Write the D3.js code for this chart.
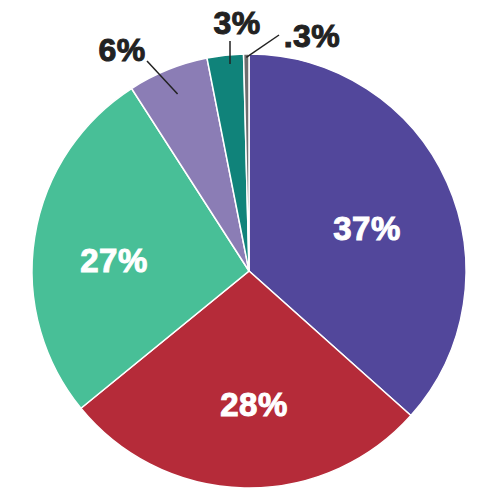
<!DOCTYPE html>
<html>
<head>
<meta charset="utf-8">
<script src="https://cdn.jsdelivr.net/npm/d3@7"></script>
<style>
  body { margin: 0; background: #fff; }
  text { font-family: "Liberation Sans", Arial, sans-serif; font-weight: bold; }
</style>
</head>
<body>
<script>
// slice values (clockwise from 12 o'clock)
var values = [36.6, 27.5, 26.8, 6.0, 2.7, 0.4];
var labels = ["37%", "28%", "27%", "6%", "3%", ".3%"];
var colors = ["#52479b", "#b52b39", "#48bf97", "#8b7db5", "#10837a", "#6e6e6e"];
// which labels sit inside the slice
var inside = [true, true, true, false, false, false];

var width = 492, height = 494;
var cx = 249, cy = 271, r = 217;

var svg = d3.select("body")
  .append("svg")
  .attr("width", width)
  .attr("height", height);

var g = svg.append("g")
  .attr("transform", "translate(" + cx + "," + cy + ")");

var pie = d3.pie().sort(null).value(function(d) { return d; });
var arcs = pie(values);

var arc = d3.arc().innerRadius(0).outerRadius(r);

g.selectAll("path")
  .data(arcs)
  .enter()
  .append("path")
  .attr("d", arc)
  .attr("fill", function(d, i) { return colors[i]; })
  .attr("stroke", "#fff")
  .attr("stroke-width", 1.5);

// label spots relative to the centre (text baseline, middle anchor)
var labelPos = [[118, -31], [5, 145], [-135, 1], [-127, -210], [-12, -237], [63, -224]];
// leader lines: where the line leaves the label, and how deep into the slice it goes
var lineStart = { 3: [-102, -210], 4: [-19, -230], 5: [30, -236] };
var lineDepth = { 3: 0.88, 4: 0.96, 5: 0.985 };

var outs = arcs.filter(function(d, i) { return !inside[i]; });

g.selectAll("line.lead")
  .data(outs)
  .enter()
  .append("line")
  .attr("class", "lead")
  .attr("x1", function(d) { return lineStart[d.index][0]; })
  .attr("y1", function(d) { return lineStart[d.index][1]; })
  .attr("x2", function(d) {
    var a = d3.arc().innerRadius(r * lineDepth[d.index]).outerRadius(r * lineDepth[d.index]);
    return d.index === 4 ? lineStart[d.index][0] : a.centroid(d)[0];
  })
  .attr("y2", function(d) {
    var a = d3.arc().innerRadius(r * lineDepth[d.index]).outerRadius(r * lineDepth[d.index]);
    return a.centroid(d)[1];
  })
  .attr("stroke", "#222")
  .attr("stroke-width", 1.5);

g.selectAll("text.lbl")
  .data(arcs)
  .enter()
  .append("text")
  .attr("class", "lbl")
  .attr("x", function(d) { return labelPos[d.index][0]; })
  .attr("y", function(d) { return labelPos[d.index][1]; })
  .attr("text-anchor", "middle")
  .attr("fill", function(d) { return inside[d.index] ? "#fff" : "#222"; })
  .attr("stroke", function(d) { return inside[d.index] ? "#fff" : "#222"; })
  .attr("stroke-width", 1)
  .style("font-size", function(d) { return inside[d.index] ? "33px" : "32px"; })
  .style("letter-spacing", "0.5px")
  .text(function(d) { return labels[d.index]; });
</script>
</body>
</html>
